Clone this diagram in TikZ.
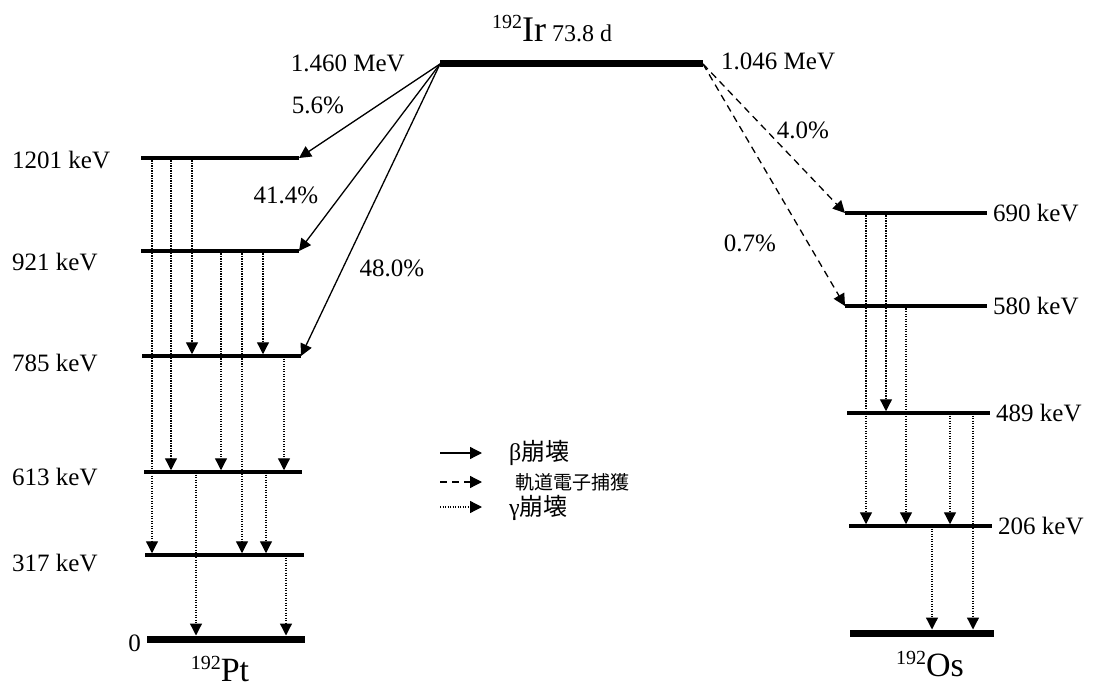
\documentclass[tikz,border=0pt]{standalone}
\usepackage{fontspec}
\setmainfont{Liberation Serif}
\newfontfamily\jpfont{Noto Sans CJK JP}
\usetikzlibrary{arrows.meta,positioning,calc}

\begin{document}
\begin{tikzpicture}[x=1pt,y=-1pt,>={Triangle[length=12pt,width=12pt]},
 lvl/.style={line width=3.5pt},
 gnd/.style={line width=7pt},
 beta/.style={->,line width=1.3pt},
 ec/.style={->,line width=1.3pt,dash pattern=on 7pt off 5pt},
 gam/.style={->,line width=1.3pt,dash pattern=on 1.3pt off 1.2pt,shorten >=1.75pt},
 lab/.style={font=\fontsize{25}{28}\selectfont,inner sep=0pt},
 leg/.style={font=\fontsize{24}{27}\selectfont,inner sep=0pt,anchor=west}]
 \useasboundingbox (0,0) rectangle (1093,687);

 % parent level
 \draw[line width=7pt] (440,64) coordinate (ir) -- (703,64) coordinate (irr);
 \node[anchor=base west,inner sep=0pt] (irname) at (492,42)
  {\raisebox{13pt}{\fontsize{20}{22}\selectfont 192}\fontsize{36}{38}\selectfont Ir\fontsize{24}{26}\selectfont\ 73.8 d};
 \node[lab,anchor=east] (qbeta) at (405,63) {1.460 MeV};
 \node[lab,anchor=west] (qec) at (721,61) {1.046 MeV};

 % 192Pt
 \foreach \n/\y/\ly/\xa/\xb in {1201/158/160/141/299,921/251/262/141/299,785/356/363/142/301,613/472/477/144/302,317/555/563/145/304}{
  \draw[lvl] (\xa,\y) coordinate (pt\n) -- (\xb,\y) coordinate (ptr\n);
  \node[lab,anchor=west] (lpt\n) at (12,\ly) {\n\ keV};
 }
 \draw[gnd] (147,639) coordinate (pt0) -- (305,639) coordinate (ptr0);
 \node[lab,anchor=east] (lpt0) at (141,643) {0};
 \node[anchor=base,inner sep=0pt] (ptname) at (220,681)
  {\raisebox{12pt}{\fontsize{20}{22}\selectfont 192}\fontsize{34}{36}\selectfont Pt};

 % beta
 \foreach \t in {1201,921,785}
  \draw[beta] (ir) -- (ptr\t);
 \node[lab] (b1) at (318,105) {5.6\%};
 \node[lab] (b2) at (286,195) {41.4\%};
 \node[lab] (b3) at (392,268) {48.0\%};

 % gamma (Pt)
 \foreach \x/\a/\b in {192/1201/785,171/1201/613,152/1201/317,263/921/785,221/921/613,242/921/317,284/785/613,266/613/317}
  \draw[gam] (\x,0 |- pt\a) -- (\x,0 |- pt\b);
 \foreach \x/\a in {196/613,286/317}
  \draw[gam,shorten >=3.5pt] (\x,0 |- pt\a) -- (\x,0 |- pt0);

 % 192Os
 \foreach \n/\y/\xa/\xb in {690/213/845/987,580/306/845/987,489/413/847/990,206/526/849/992}{
  \draw[lvl] (\xa,\y) coordinate (os\n) -- (\xb,\y) coordinate (osr\n);
  \node[lab,anchor=west] (los\n) at (\xb+6,\y) {\n\ keV};
 }
 \draw[gnd] (850,633) coordinate (os0) -- (994,633) coordinate (osr0);
 \node[anchor=base,inner sep=0pt] (osname) at (930,676)
  {\raisebox{12pt}{\fontsize{20}{22}\selectfont 192}\fontsize{34}{36}\selectfont Os};

 % electron capture
 \draw[ec] (irr) -- (os690);
 \draw[ec] (irr) -- (os580);
 \node[lab] (e1) at (803,130) {4.0\%};
 \node[lab] (e2) at (750,243) {0.7\%};

 % gamma (Os)
 \foreach \x/\a/\b in {886/690/489,866/690/206,906/580/206,950/489/206}
  \draw[gam] (\x,0 |- os\a) -- (\x,0 |- os\b);
 \foreach \x/\a in {973/489,932/206}
  \draw[gam,shorten >=3.5pt] (\x,0 |- os\a) -- (\x,0 |- os0);

 % legend
 \coordinate (k1) at (440,453); \coordinate (k1e) at (482,453);
 \coordinate (k2) at (440,482); \coordinate (k2e) at (482,482);
 \coordinate (k3) at (440,507); \coordinate (k3e) at (482,507);
 \draw[beta] (k1) -- (k1e);
 \draw[ec] (k2) -- (k2e);
 \draw[gam,shorten >=0pt] (k3) -- (k3e);
 \node[leg] (lbeta) at (509,453) {β{\jpfont 崩壊}};
 \node[leg,font=\fontsize{19}{22}\selectfont] (lec) at (515,482) {\jpfont 軌道電子捕獲};
 \node[leg] (lgam) at (509,508) {γ{\jpfont 崩壊}};
\end{tikzpicture}
\end{document}
